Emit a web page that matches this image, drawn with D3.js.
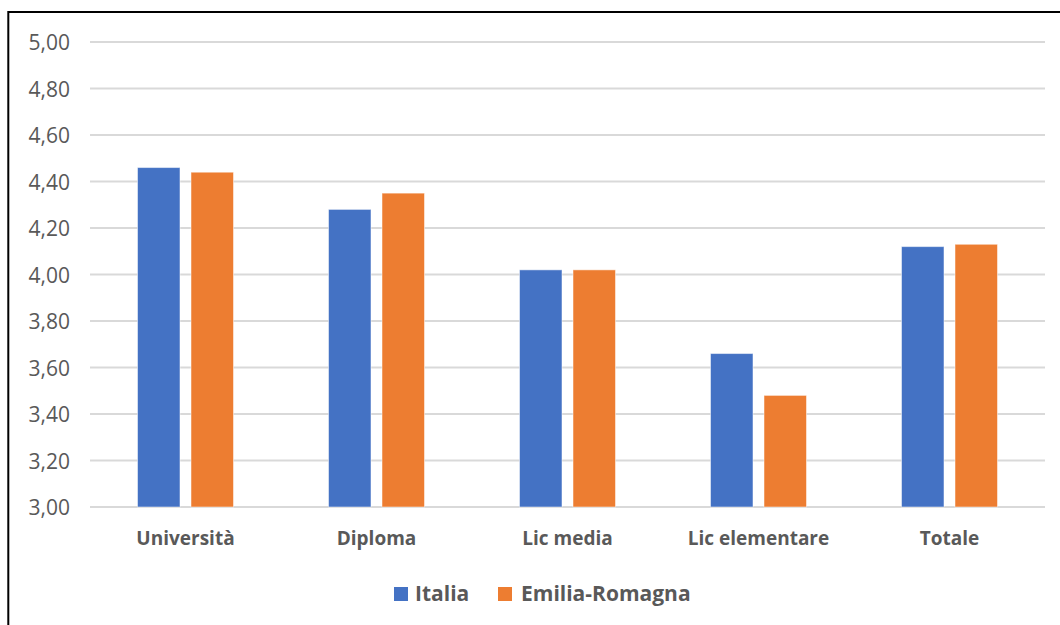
<!DOCTYPE html>
<html>
<head>
<meta charset="utf-8">
<script src="https://cdn.jsdelivr.net/npm/d3@7/dist/d3.min.js"></script>
<style>
  html, body { margin: 0; padding: 0; background: #fff; }
  svg { display: block; }
</style>
</head>
<body>
<svg id="chart" width="1060" height="625"></svg>
<script>
const categories = ["Università", "Diploma", "Lic media", "Lic elementare", "Totale"];
const seriesNames = ["Italia", "Emilia-Romagna"];
const italia = [4.46, 4.28, 4.02, 3.66, 4.12];
const emiliaRomagna = [4.44, 4.35, 4.02, 3.48, 4.13];
const yTicks = [3.0, 3.2, 3.4, 3.6, 3.8, 4.0, 4.2, 4.4, 4.6, 4.8, 5.0];
const colors = ["#4472C4", "#ED7D31"];

const series = [italia, emiliaRomagna];
const svg = d3.select("#chart");
const FONT = "'Open Sans', 'Segoe UI', sans-serif";
const TXT = "#595959";

// frame
svg.append("rect").attr("x", 8.3).attr("y", 12).attr("width", 1100).attr("height", 700)
  .attr("fill", "none").attr("stroke", "#000").attr("stroke-width", 2);

const x = d3.scaleBand().domain(categories).range([90, 1045]);
const y = d3.scaleLinear().domain([3, 5]).range([507, 42]);

const barW = 42.5, gap = 11;

// gridlines
svg.append("g").selectAll("line").data(yTicks).join("line")
  .attr("x1", 90).attr("x2", 1045)
  .attr("y1", d => y(d)).attr("y2", d => y(d))
  .attr("stroke", "#d9d9d9").attr("stroke-width", 2);

// y axis labels
const yAxis = d3.axisLeft(y).tickValues(yTicks).tickSize(0).tickPadding(0)
  .tickFormat(d => d3.format(".2f")(d).replace(".", ","));
const gy = svg.append("g").attr("transform", "translate(70,0)").call(yAxis);
gy.select(".domain").remove();
gy.selectAll("text").attr("font-family", FONT).attr("font-size", 21).attr("fill", TXT)
  .attr("dy", "0.36em");

// bars
series.forEach((vals, si) => {
  svg.append("g").selectAll("rect").data(vals).join("rect")
    .attr("x", (d, i) => {
      const c = x(categories[i]) + x.bandwidth() / 2;
      return si === 0 ? c - gap / 2 - barW : c + gap / 2;
    })
    .attr("y", d => y(d))
    .attr("width", barW)
    .attr("height", d => y(3) - y(d))
    .attr("fill", colors[si])
    .attr("stroke", "#ffffff").attr("stroke-opacity", 0.5).attr("stroke-width", 1);
});

// x axis labels
const xAxis = d3.axisBottom(x).tickSize(0).tickPadding(0);
const gx = svg.append("g").attr("transform", "translate(0,545)").call(xAxis);
gx.select(".domain").remove();
gx.selectAll("text").attr("font-family", FONT).attr("font-size", 19).attr("font-weight", "bold")
  .attr("fill", TXT).attr("dy", 0);

// legend
const legendItems = [
  { name: seriesNames[0], color: colors[0], sx: 394, tx: 415 },
  { name: seriesNames[1], color: colors[1], sx: 498, tx: 521 }
];
const lg = svg.append("g");
legendItems.forEach(it => {
  lg.append("rect").attr("x", it.sx).attr("y", 587).attr("width", 14).attr("height", 14).attr("fill", it.color);
  lg.append("text").attr("x", it.tx).attr("y", 601).text(it.name)
    .attr("font-family", FONT).attr("font-size", 21).attr("font-weight", "bold").attr("fill", TXT);
});
</script>
</body>
</html>
